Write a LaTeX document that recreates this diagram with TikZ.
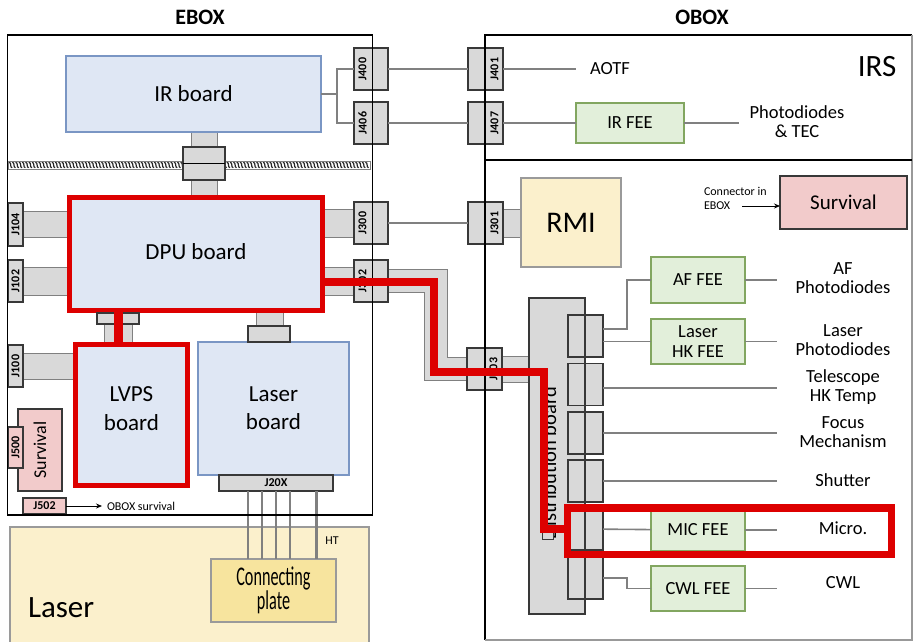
\documentclass[tikz,border=0pt]{standalone}
\usepackage{fontspec}
\setmainfont{Carlito}
\usetikzlibrary{arrows.meta}
\definecolor{bfill}{HTML}{DFE7F4}
\definecolor{bdraw}{HTML}{7A96C4}
\definecolor{cfill}{HTML}{D9D9D9}
\definecolor{cdraw}{HTML}{383838}
\definecolor{wirec}{HTML}{808080}
\definecolor{myred}{HTML}{DD0000}
\definecolor{gfill}{HTML}{E2EFDA}
\definecolor{gdraw}{HTML}{82A660}
\definecolor{pfill}{HTML}{F2CBCB}
\definecolor{yfill}{HTML}{FBF0CC}
\definecolor{ydraw}{HTML}{9A9A9A}
\definecolor{platec}{HTML}{F7E49E}
\begin{document}
\begin{tikzpicture}[x=1pt,y=-1pt,
  every node/.style={inner sep=0pt, outer sep=0pt},
  board/.style={draw=bdraw, fill=bfill, line width=1.2pt, font=\fontsize{23}{28}\selectfont, align=center},
  redboard/.style={draw=myred, fill=bfill, line width=5pt, font=\fontsize{23}{29}\selectfont, align=center},
  conn/.style={draw=cdraw, fill=cfill, line width=1.1pt},
  jlab/.style={conn, rotate=90, font=\bfseries\fontsize{12}{12}\selectfont},
  jtxt/.style={rotate=90, font=\bfseries\fontsize{12}{12}\selectfont},
  hlab/.style={conn, font=\bfseries\fontsize{12}{12}\selectfont},
  fee/.style={draw=gdraw, fill=gfill, line width=1.2pt, font=\fontsize{18.5}{20}\selectfont, align=center},
  lab/.style={font=\fontsize{18.5}{19}\selectfont, align=center},
  small/.style={font=\fontsize{12}{14}\selectfont, align=left},
  band/.style={draw=wirec, fill=cfill, line width=1pt},
  wire/.style={draw=wirec, line width=1.6pt},
  redline/.style={draw=myred, line width=8.5pt},
  surv/.style={draw=cdraw, fill=pfill, line width=1.1pt},
]
\useasboundingbox (0,0) rectangle (913,641);
% titles
\node[font=\bfseries\fontsize{22}{24}\selectfont] (etitle) at (200,17) {EBOX};
\node[font=\bfseries\fontsize{22}{24}\selectfont] (otitle) at (702,17) {OBOX};

% laser unit
\node[draw=ydraw, fill=yfill, line width=1.2pt, minimum width=359pt, minimum height=124pt] (laserbox) at (189.5,589) {};
\node[font=\fontsize{31}{33}\selectfont, anchor=west] (lasertxt) at (28,608) {Laser};

% hatched harness
\fill[white] (8,161) rectangle (370,169);
\foreach \x in {9,12.3,...,366}
  \draw[black!85, line width=1.2pt] (\x,162.3) .. controls (\x+3,162.3) and (\x+0.5,167.7) .. (\x+3.2,167.7);
\draw[wirec, line width=1pt] (8,161) rectangle (370,169);

% stems and bands
\filldraw[band] (191,132) rectangle (217,196);
\filldraw[band] (23,211) rectangle (68,237);
\filldraw[band] (23,267) rectangle (68,295);
\filldraw[band] (23,353) rectangle (76,379);
\filldraw[band] (323,209) rectangle (354,237);
\filldraw[band] (323,267) rectangle (354,295);
\filldraw[band] (503,209) rectangle (522,237);
\filldraw[band] (502,356) rectangle (530,382);
\filldraw[band] (104,320) rectangle (132,343);
\filldraw[band] (256,310) rectangle (283,328);
\draw[draw=wirec, double=cfill, double distance=22pt, line width=1pt]
  (386,280.5) -- (435.5,280.5) -- (435.5,369) -- (470,369);

% hatch connector
\node[conn, minimum width=42pt, minimum height=33pt] (hconn) at (204,163.5) {};
\draw[black, line width=1.8pt] (hconn.west) -- (hconn.east);

% boards
\node[board, minimum width=255pt, minimum height=76pt] (irb) at (193.5,94) {IR board};
\node[redboard, minimum width=253pt, minimum height=113pt] (dpu) at (196,254) {\raisebox{5pt}{DPU board}};
\node[redboard, minimum width=112pt, minimum height=141pt] (lvps) at (131.5,415) {};
\node[font=\fontsize{23}{29}\selectfont, align=center] (lvpst) at (131.5,409) {LVPS\\board};
\node[board, minimum width=151pt, minimum height=133pt] (laserb) at (273.5,408.5) {Laser\\board};
\node[conn, minimum width=42pt, minimum height=11pt] (lvconn) at (118,318.5) {};
\node[conn, minimum width=42pt, minimum height=16pt] (laconn) at (269,334) {};

% EBOX connectors
\node[jlab, minimum width=43pt, minimum height=15pt] (j104) at (15.5,224.5) {J104};
\node[jlab, minimum width=42pt, minimum height=15pt] (j102) at (15.5,281) {J102};
\node[jlab, minimum width=42pt, minimum height=15pt] (j100) at (15.5,366) {J100};
\node[conn, minimum width=34pt, minimum height=42pt] (j400) at (371,69) {};
\node[conn, minimum width=34pt, minimum height=42pt] (j406) at (371,123) {};
\node[conn, minimum width=34pt, minimum height=42pt] (j300) at (371,223) {};
\node[conn, minimum width=34pt, minimum height=42pt] (j302) at (371,281) {};
\node[jtxt] (j400t) at (362.5,69) {J400};
\node[jtxt] (j406t) at (362.5,123) {J406};
\node[jtxt] (j300t) at (362.5,223) {J300};
\node[jtxt] (j302t) at (362.5,281) {J302};
\node[hlab, minimum width=114pt, minimum height=16pt] (j20x) at (276,483) {J20X};

% survival (EBOX)
\node[surv, rotate=90, minimum width=82pt, minimum height=44pt, font=\fontsize{18}{20}\selectfont] (esurv) at (40,450) {\raisebox{-3pt}{Survival}};
\node[surv, rotate=90, minimum width=41pt, minimum height=15pt, font=\bfseries\fontsize{12}{12}\selectfont] (j500) at (15.5,447.5) {J500};
\node[surv, minimum width=43pt, minimum height=16pt, font=\bfseries\fontsize{12}{12}\selectfont] (j502) at (44.5,506) {J502};
\node[small, anchor=west] (obsurv) at (107,506) {OBOX survival};
\draw[-{Stealth[length=6pt,width=5pt]}, line width=0.8pt] (j502) -- ([xshift=-5pt]obsurv.west);

% connecting plate
\node[draw=ydraw, fill=platec, line width=1.2pt, minimum width=125pt, minimum height=63pt, align=center, font=\fontsize{27}{15}\selectfont] (plate) at (273.5,590.5) {\scalebox{0.6}[1]{Connecting}\\\scalebox{0.6}[1]{plate}};
\foreach \xx in {248,262,276,290}
  \draw[wire] (j20x.south -| \xx,0) -- (plate.north -| \xx,0);
\draw[draw=wirec, line width=3pt] (j20x.south -| 316,0) -- (plate.north -| 316,0);
\node[small] (ht) at (332,541) {HT};

% OBOX: IRS part
\node[conn, minimum width=35pt, minimum height=42pt] (j401) at (485.5,69) {};
\node[conn, minimum width=35pt, minimum height=42pt] (j407) at (485.5,123) {};
\node[conn, minimum width=35pt, minimum height=42pt] (j301) at (485.5,223) {};
\node[conn, minimum width=35pt, minimum height=42pt] (j303) at (484.5,369) {};
\node[jtxt] (j401t) at (494.5,69) {J401};
\node[jtxt] (j407t) at (494.5,123) {J407};
\node[jtxt] (j301t) at (494.5,223) {J301};
\node[jtxt] (j303t) at (493.5,369) {J303};
\node[lab, anchor=west] (aotf) at (590,69) {AOTF};
\node[font=\fontsize{31}{33}\selectfont] (irs) at (877,67) {IRS};
\node[fee, minimum width=108pt, minimum height=40pt] (irfee) at (630,123) {IR FEE};
\node[lab] (pdtec) at (797,122) {Photodiodes\\\& TEC};

\draw[wire] (irb.east) -- (337,94) coordinate (fork) |- (j400);
\draw[wire] (fork) |- (j406);
\draw[wire] (j400) -- (j401);
\draw[wire] (j406) -- (j407);
\draw[wire] (j300) -- (j301);
\draw[wire] (j401) -- ([xshift=-14pt]aotf.west);
\draw[wire] (j407) -- (irfee);
\draw[wire] (irfee) -- (739,123);

% OBOX lower part
\node[draw=ydraw, fill=yfill, line width=1.2pt, minimum width=100pt, minimum height=89pt, font=\fontsize{30}{32}\selectfont] (rmi) at (571,222.5) {RMI};
\node[surv, minimum width=127pt, minimum height=53pt, font=\fontsize{21}{23}\selectfont] (osurv) at (843.5,202.5) {Survival};
\node[small, anchor=west] (connin) at (704,198) {Connector in\\EBOX};
\draw[-{Stealth[length=6pt,width=5pt]}, line width=0.8pt] (742,206) -- (osurv.west |- 0,206);

\node[fee, minimum width=94pt, minimum height=46pt] (aff) at (698,280) {AF FEE};
\node[fee, minimum width=94pt, minimum height=45pt, font=\fontsize{18.5}{20}\selectfont] (lhk) at (698,341.5) {Laser\\HK FEE};
\node[fee, minimum width=94pt, minimum height=42pt] (mic) at (698,530) {MIC FEE};
\node[fee, minimum width=94pt, minimum height=45pt] (cwl) at (698,588.5) {CWL FEE};

\node[lab] (afpd) at (843,278) {AF\\Photodiodes};
\node[lab] (lpd) at (843,340) {Laser\\Photodiodes};
\node[lab] (tel) at (843,387) {Telescope\\HK Temp};
\node[lab] (foc) at (843,432) {Focus\\Mechanism};
\node[lab] (shut) at (843,480) {Shutter};
\node[lab] (micro) at (843,528) {Micro.};
\node[lab] (cwltxt) at (843,583) {CWL};

% distribution board
\node[conn, minimum width=56pt, minimum height=316pt] (dist) at (557,456) {};
\node[conn, minimum width=35pt, minimum height=42pt] (d1) at (585.5,336) {};
\node[conn, minimum width=35pt, minimum height=42pt] (d2) at (585.5,384.5) {};
\node[conn, minimum width=35pt, minimum height=42pt] (d3) at (585.5,433) {};
\node[conn, minimum width=35pt, minimum height=42pt] (d4) at (585.5,481) {};
\node[conn, minimum width=35pt, minimum height=42pt] (d5) at (585.5,529) {};
\node[conn, minimum width=35pt, minimum height=42pt] (d6) at (585.5,578) {};
\draw[cdraw, line width=1.1pt] (dist.north east) -- (dist.south east);
\node[rotate=90, font=\fontsize{20.5}{22}\selectfont] (disttxt) at (549,463) {Distribution board};
\node[draw=cdraw, line width=0.8pt, fill=cfill, minimum width=11pt, minimum height=7pt] (distmark) at (547.5,535.5) {};

\draw[wire] (d1.east |- 0,329) -- (627,329) |- (aff);
\draw[wire] (d1.east |- lhk) -- (lhk);
\draw[wire] (aff) -- (777,280);
\draw[wire] (lhk) -- (777,341.5);
\draw[wire] (d2.east |- 0,388) -- (777,388);
\draw[wire] (d3) -- (777,433);
\draw[wire] (d4) -- (777,481);
\draw[wire] (d5) -- (mic);
\draw[wire] (mic) -- (777,530);
\draw[wire] (d6) -- (627,578) |- (cwl);
\draw[wire] (cwl) -- (777,588.5);

% frames
\draw[black, line width=1.8pt] (7.5,35) rectangle (372.5,515);
\draw[black, line width=1.8pt] (485,640) -- (485,35) -- (912,35);
\draw[black!40, line width=1.2pt] (485,640) -- (912,640) -- (912,35);
\draw[black, line width=1.8pt] (485,160) -- (912,160);

% red highlights
\draw[redline] (dpu.east |- 0,282) -- (434,282) -- (434,372) -- (544,372) -- (544,529) -- (568,529);
\draw[redline, line width=9pt] (dpu.south -| 118,0) -- (lvps.north -| 118,0);
\node[draw=myred, line width=7.5pt, minimum width=324pt, minimum height=46.5pt] (micframe) at (729.5,531.25) {};
\end{tikzpicture}
\end{document}
